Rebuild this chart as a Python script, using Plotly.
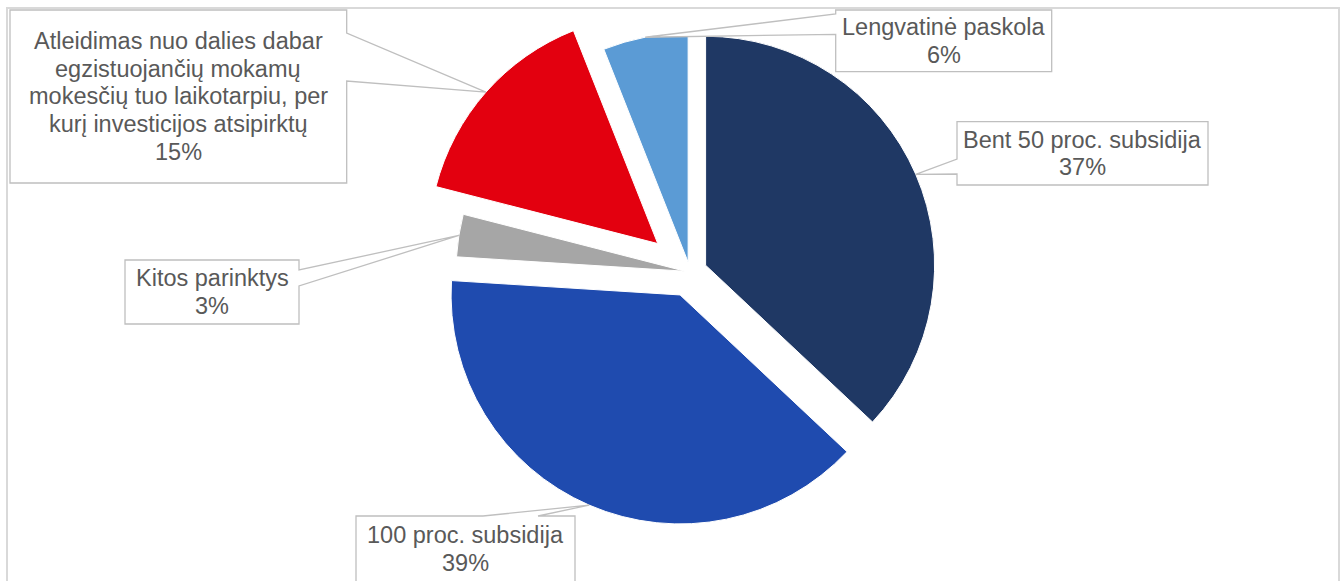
import math
import plotly.graph_objects as go

# ---- data ----
labels = ["Bent 50 proc. subsidija", "100 proc. subsidija", "Kitos parinktys",
          "Atleidimas nuo dalies dabar egzistuojančių mokamų mokesčių tuo laikotarpiu, per kurį investicijos atsipirktų",
          "Lengvatinė paskola"]
values = [37, 39, 3, 15, 6]
label_lines = [
    ["Bent 50 proc. subsidija"],
    ["100 proc. subsidija"],
    ["Kitos parinktys"],
    ["Atleidimas nuo dalies dabar", "egzistuojančių mokamų", "mokesčių tuo laikotarpiu, per", "kurį investicijos atsipirktų"],
    ["Lengvatinė paskola"],
]

# ---- style ----
colors = ["#1F3864", "#1F4BAF", "#A6A6A6", "#E3000F", "#5B9BD5"]
W, H = 1344, 581
CX, CY, R = 690.0, 272.0, 229.0          # pie centre / radius in px
pull_px = [17, 25, 5, 43, 10]            # explosion of each slice in px
pulls = [p / R for p in pull_px]
FS = 23.5
LINE = 27.7
TXT = "#595959"
BOXC = "#BFBFBF"

# callout boxes: x0, y0, x1, y1 (px), wedge side and base positions
boxes = [
    dict(x0=957, y0=121.7, x1=1208, y1=185, side="left", b=(159, 174)),
    dict(x0=356, y0=516, x1=575, y1=584, side="top", b=(483, 538)),
    dict(x0=125, y0=260, x1=299, y1=324, side="right", b=(270, 286)),
    dict(x0=10, y0=10, x1=346.7, y1=183, side="right", b=(33, 81)),
    dict(x0=835.7, y0=10, x1=1051.7, y1=71.7, side="left", b=(14, 34.3)),
]


def px(x):
    return x / W


def py(y):
    return 1 - y / H


maxpull = max(pulls)
half = R * (1 + maxpull)

fig = go.Figure(go.Pie(
    labels=labels, values=values, sort=False, direction="clockwise", rotation=0,
    pull=pulls, textinfo="none", hoverinfo="label+percent",
    marker=dict(colors=colors, line=dict(color="white", width=1)),
    domain=dict(x=[px(CX - half), px(CX + half)], y=[max(0, py(CY + half)), min(1, py(CY - half))]),
    showlegend=False,
))

total = sum(values)
shapes = []
annotations = []
cum = 0.0
for i, v in enumerate(values):
    mid = (cum + v / 2) / total * 2 * math.pi
    cum += v
    dx, dy = math.sin(mid), -math.cos(mid)
    ax = CX + (pull_px[i] + R) * dx
    ay = CY + (pull_px[i] + R) * dy
    b = boxes[i]
    x0, y0, x1, y1 = b["x0"], b["y0"], b["x1"], b["y1"]
    ba, bb = b["b"]
    if b["side"] == "right":
        pts = [(x0, y0), (x1, y0), (x1, ba), (ax, ay), (x1, bb), (x1, y1), (x0, y1)]
    elif b["side"] == "left":
        pts = [(x0, y0), (x1, y0), (x1, y1), (x0, y1), (x0, bb), (ax, ay), (x0, ba)]
    else:
        pts = [(x0, y0), (ba, y0), (ax, ay), (bb, y0), (x1, y0), (x1, y1), (x0, y1)]
    path = "M " + " L ".join(f"{px(x):.5f},{py(y):.5f}" for x, y in pts) + " Z"
    shapes.append(dict(type="path", path=path, xref="paper", yref="paper",
                       fillcolor="white", line=dict(color=BOXC, width=1.3), layer="above"))
    lines = label_lines[i] + [f"{round(v / total * 100)}%"]
    n = len(lines)
    if i == 1:
        first_base = 543.3
    else:
        block = (n - 1) * LINE
        first_base = (y0 + y1) / 2 - block / 2 + 0.3465 * FS
    for k, t in enumerate(lines):
        base = first_base + k * LINE
        annotations.append(dict(
            text=t, x=px((x0 + x1) / 2), y=py(base - 0.3465 * FS),
            xref="paper", yref="paper", xanchor="center", yanchor="middle",
            showarrow=False, font=dict(family="Liberation Sans, Arial, sans-serif", size=FS, color=TXT)))

# outer chart border
shapes.insert(0, dict(type="rect", xref="paper", yref="paper", x0=px(7), x1=px(1339),
                      y0=py(600), y1=py(8), line=dict(color="#D9D9D9", width=2),
                      fillcolor="rgba(0,0,0,0)", layer="above"))

fig.update_layout(
    width=W, height=H, margin=dict(l=0, r=0, t=0, b=0),
    paper_bgcolor="white", plot_bgcolor="white",
    shapes=shapes, annotations=annotations,
)
fig.write_html("out.html")
